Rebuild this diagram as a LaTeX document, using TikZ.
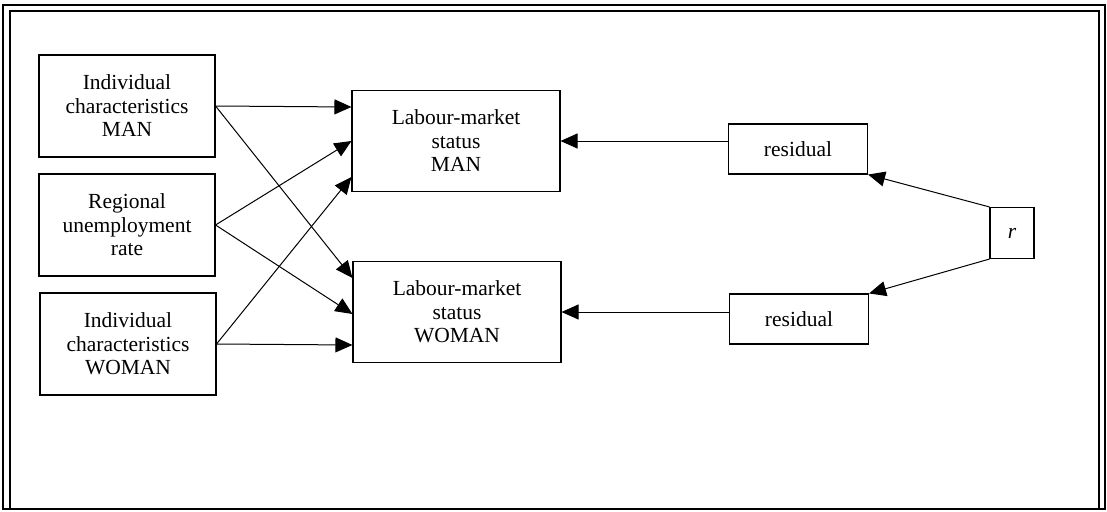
\documentclass[tikz,border=0pt]{standalone}
\usepackage{fontspec}
\setmainfont{Liberation Serif}
\usetikzlibrary{arrows.meta,positioning}

\begin{document}
\begin{tikzpicture}[x=1pt, y=-1pt, line width=1.1pt,
  font=\fontsize{21.5}{23.5}\selectfont,
  box/.style={draw, align=center, inner sep=0pt, minimum width=176pt, minimum height=102pt},
  status/.style={box, minimum width=208pt, minimum height=101pt},
  resbox/.style={box, minimum width=139pt, minimum height=50pt},
  arr/.style={-{Triangle[length=17pt, width=15pt]}, line width=1pt}]
\useasboundingbox (0,0) rectangle (1107,511);
% frame
\draw[line width=1.8pt] (3,5) rectangle (1105,509);
\draw[line width=1.2pt] (10,11) rectangle (1099,509);
% causes
\node[box] (icMan) at (127,106) {Individual\\characteristics\\MAN};
\node[box] (regRate) at (127,225) {Regional\\unemployment\\rate};
\node[box] (icWoman) at (128,344) {Individual\\characteristics\\WOMAN};
% outcomes
\node[status] (lmMan) at (456,141) {Labour-market\\status\\MAN};
\node[status] (lmWoman) at (457,312) {Labour-market\\status\\WOMAN};
% error terms
\node[resbox] (res1) at (798,149) {residual};
\node[resbox] (res2) at (799,319) {residual};
\node[draw, inner sep=0pt, minimum width=44pt, minimum height=51pt] (rr) at (1012,233) {\textit{r}};
% arrows
\draw[arr] (icMan.east) -- ([yshift=34pt]lmMan.west);
\draw[arr] (icMan.east) -- ([yshift=34pt]lmWoman.west);
\draw[arr] (regRate.east) -- (lmMan.west);
\draw[arr] (regRate.east) -- ([yshift=-2pt]lmWoman.west);
\draw[arr] (icWoman.east) -- ([yshift=-36pt]lmMan.west);
\draw[arr] (icWoman.east) -- ([yshift=-33pt]lmWoman.west);
\draw[arr] (res1.west |- lmMan.east) -- (lmMan.east);
\draw[arr] (res2.west |- lmWoman.east) -- (lmWoman.east);
\draw[arr] (rr.north west) -- (res1.south east);
\draw[arr] (rr.south west) -- (res2.north east);
\end{tikzpicture}
\end{document}
